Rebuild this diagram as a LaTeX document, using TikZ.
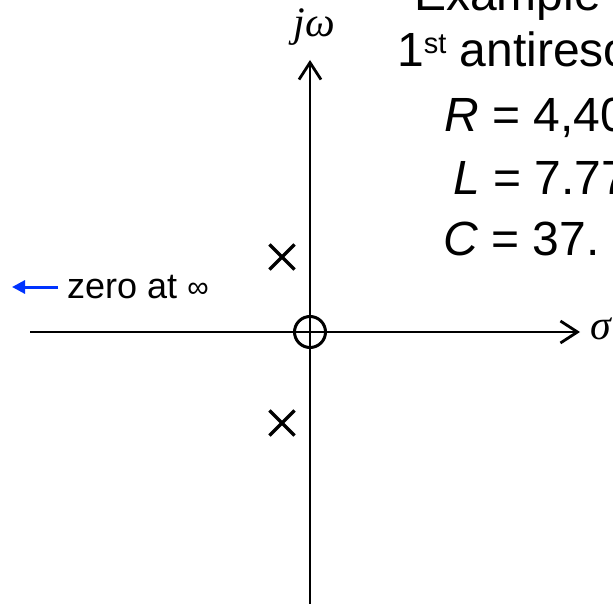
\documentclass[tikz,border=0pt]{standalone}
\usepackage{fontspec}
\setmainfont{Liberation Sans}
\newfontfamily\seriffam{Liberation Serif}
\usetikzlibrary{arrows.meta,shapes.misc}
\definecolor{arrowblue}{RGB}{0,51,255}
\tikzset{
  axisline/.style={line width=2.8pt, -{Straight Barb[length=17pt,width=22pt,line width=2.8pt]}},
  polemark/.style={cross out, draw, line width=3.2pt, minimum size=22pt, inner sep=0pt},
  zeromark/.style={circle, draw, line width=3pt, minimum size=31pt, inner sep=0pt},
  bigtext/.style={anchor=base west, inner sep=0pt, font=\fontsize{48}{58}\selectfont},
  smalltext/.style={anchor=base west, inner sep=0pt, font=\fontsize{36}{42}\selectfont},
  mathlabel/.style={inner sep=0pt, font=\fontsize{42}{50}\selectfont\seriffam\itshape},
}
\begin{document}
\begin{tikzpicture}[x=1pt,y=-1pt]
\useasboundingbox (0,0) rectangle (613,604);
% axes
\coordinate (xl) at (30,332);
\coordinate (xr) at (580,332);
\coordinate (yb) at (310,604);
\coordinate (yt) at (310,60);
\draw[axisline] (xl) -- (xr);
\draw[axisline] (yb) -- (yt);
\node[mathlabel, anchor=base] (jw) at (314,37) {jω};
\node[mathlabel, anchor=base west] (sig) at (590,339) {σ};
% poles and zero
\node[polemark] (p1) at (282,257) {};
\node[polemark] (p2) at (282,423) {};
\node[zeromark] (z0) at (310,332) {};
% zero at infinity
\node[smalltext] (zinf) at (67,298) {zero at \raisebox{1pt}{\fontsize{30}{30}\selectfont ∞}};
\coordinate (bt) at (12,287);
\coordinate (bs) at (58,287);
\draw[arrowblue, line width=3pt, -{Triangle[length=13pt,width=13pt]}] (bs) -- (bt);
% text block
\node[bigtext] (ex) at (414,11) {Example};
\node[bigtext] (ant) at (397,67) {1\raisebox{13pt}{\fontsize{29}{30}\selectfont st} antireso};
\node[bigtext] (rr) at (444,132) {\textit{R} = 4,40};
\node[bigtext] (ll) at (453,195) {\textit{L} = 7.77};
\node[bigtext] (cc) at (443,255) {\textit{C} = 37.};
\end{tikzpicture}
\end{document}
